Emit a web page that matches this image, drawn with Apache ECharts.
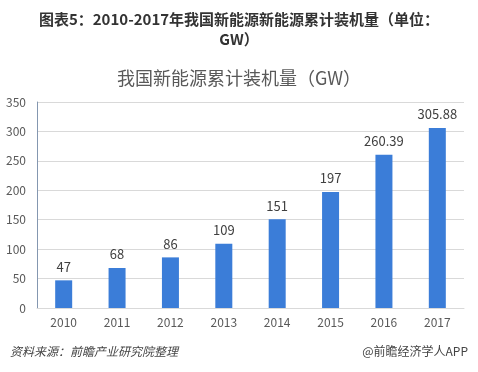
<!DOCTYPE html>
<html><head><meta charset="utf-8">
<script src="https://cdn.jsdelivr.net/npm/echarts@6/dist/echarts.min.js"></script>
<style>html,body{margin:0;padding:0;background:#fff}#c{width:478px;height:372px}</style>
</head><body><div id="c"></div>
<script>
const categories = ['2010','2011','2012','2013','2014','2015','2016','2017'];
const values = [47, 68, 86, 109, 151, 197, 260.39, 305.88];
const yTicks = [0, 50, 100, 150, 200, 250, 300, 350];

const chart = echarts.init(document.getElementById('c'), null, {renderer:'canvas'});
const font = '"Microsoft YaHei","Noto Sans CJK SC",sans-serif';
chart.setOption({
  animation:false,
  backgroundColor:'#fff',
  title:[
    {text:'图表5：2010-2017年我国新能源新能源累计装机量（单位：\nGW）', left:'center', top:4,
     textStyle:{fontSize:15,fontWeight:'bold',color:'#333',fontFamily:font,lineHeight:20}},
    {text:'我国新能源累计装机量（GW）', left:'center', top:64,
     textStyle:{fontSize:18,fontWeight:'normal',color:'#595959',fontFamily:font}}
  ],
  graphic:[
    {type:'text', left:10, top:345, style:{text:'资料来源：前瞻产业研究院整理', fontSize:12, fontStyle:'italic', fill:'#444', fontFamily:font}},
    {type:'text', right:10, top:345, style:{text:'@前瞻经济学人APP', fontSize:12, fill:'#444', fontFamily:font}}
  ],
  grid:{left:37, right:14, top:102, bottom:64, containLabel:false},
  xAxis:{type:'category', data:categories,
    axisLine:{show:true,lineStyle:{color:'#d9d9d9'}}, axisTick:{show:false},
    axisLabel:{color:'#595959',fontSize:12,fontFamily:font,margin:8}},
  yAxis:{type:'value', min:yTicks[0], max:yTicks[yTicks.length-1], interval:50,
    axisLine:{show:true,lineStyle:{color:'#8497b0'}}, axisTick:{show:false},
    splitLine:{lineStyle:{color:'#d9d9d9'}},
    axisLabel:{color:'#595959',fontSize:12,fontFamily:font,margin:11}},
  series:[{type:'bar', data:values, barWidth:17,
    itemStyle:{color:'#3b7dd8'},
    label:{show:true, position:'top', distance:7, color:'#404040', fontSize:13, fontFamily:font}}]
});
</script></body></html>
